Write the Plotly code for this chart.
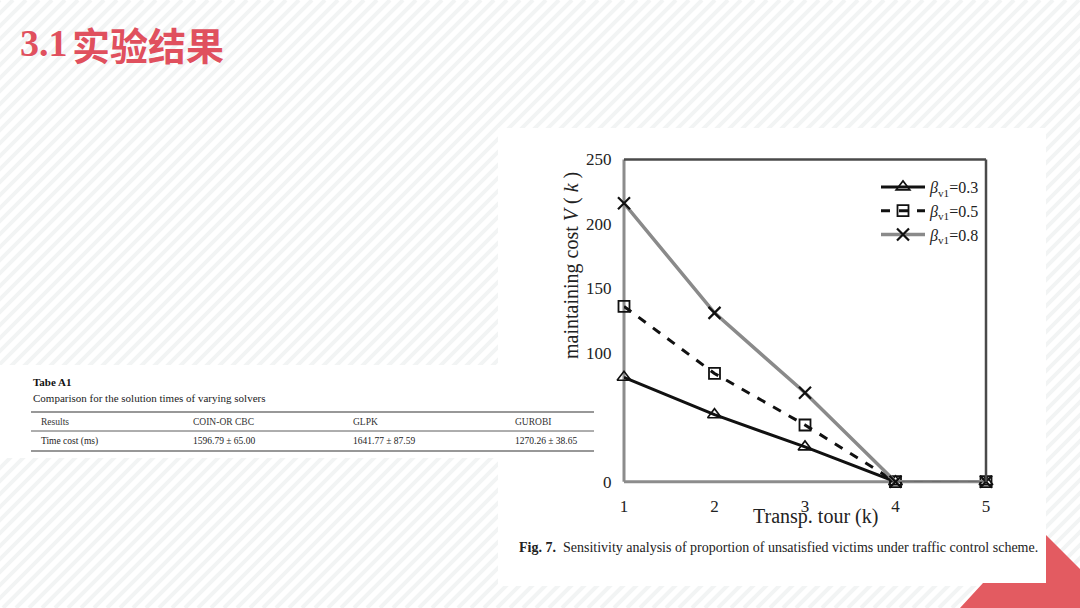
import plotly.graph_objects as go

W, H = 1080, 608

# ---------------- data ----------------
tours = [1, 2, 3, 4, 5]
beta_03 = [81, 52, 27, 0, 0]
beta_05 = [136, 84, 44, 0, 0]
beta_08 = [216, 131, 69, 0, 0]
series_names = ["<i>β</i><sub>v1</sub>=0.3", "<i>β</i><sub>v1</sub>=0.5", "<i>β</i><sub>v1</sub>=0.8"]
y_ticks = [0, 100, 150, 200, 250]
x_ticks = [1, 2, 3, 4, 5]

table_header = ["Results", "COIN-OR CBC", "GLPK", "GUROBI"]
table_row = ["Time cost (ms)", "1596.79 ± 65.00", "1641.77 ± 87.59", "1270.26 ± 38.65"]

SERIF = "Liberation Serif"


def px(x):
    return x / W


def py(y):
    return 1 - y / H


fig = go.Figure()

fig.add_trace(go.Scatter(
    x=tours, y=beta_03, name=series_names[0], mode="lines+markers",
    line=dict(color="#111111", width=3),
    marker=dict(symbol="triangle-up-open", size=12, color="#111111", line=dict(width=1.6)),
    cliponaxis=False))
fig.add_trace(go.Scatter(
    x=tours, y=beta_05, name=series_names[1], mode="lines+markers",
    line=dict(color="#111111", width=3, dash="dash"),
    marker=dict(symbol="square-open", size=11, color="#111111", line=dict(width=1.8)),
    cliponaxis=False))
fig.add_trace(go.Scatter(
    x=tours, y=beta_08, name=series_names[2], mode="lines+markers",
    line=dict(color="#8a8a8a", width=3.5),
    marker=dict(symbol="x-thin-open", size=12, color="#111111", line=dict(width=2.2)),
    cliponaxis=False))

shapes = []
# striped background (45 degrees, bottom-left to top-right)
step = 13
x0 = -H
while x0 < W:
    shapes.append(dict(type="line", xref="paper", yref="paper",
                       x0=px(x0), y0=0, x1=px(x0 + H), y1=1,
                       line=dict(color="#f2f4f4", width=4), layer="below"))
    x0 += step
# white panels
shapes.append(dict(type="rect", xref="paper", yref="paper",
                   x0=px(498), x1=px(1046), y0=py(586), y1=py(128),
                   fillcolor="white", line=dict(width=0), layer="below"))
shapes.append(dict(type="rect", xref="paper", yref="paper",
                   x0=px(0), x1=px(600), y0=py(458), y1=py(365),
                   fillcolor="white", line=dict(width=0), layer="below"))
# plot frame
shapes.append(dict(type="line", xref="x domain", yref="y domain", x0=0, x1=1, y0=1, y1=1,
                   line=dict(color="#4a4a4a", width=2.5)))
shapes.append(dict(type="line", xref="x domain", yref="y domain", x0=1, x1=1, y0=0, y1=1,
                   line=dict(color="#4a4a4a", width=2.5)))
shapes.append(dict(type="line", xref="x domain", yref="y domain", x0=0, x1=0, y0=0, y1=1,
                   line=dict(color="#8c8c8c", width=3), layer="below"))
shapes.append(dict(type="line", xref="x domain", yref="y domain", x0=0, x1=1, y0=0, y1=0,
                   line=dict(color="#8c8c8c", width=3), layer="below"))
# table rules
for yy, wdt in [(412, 1.2), (431, 0.8), (451, 1.2)]:
    shapes.append(dict(type="line", xref="paper", yref="paper",
                       x0=px(31), x1=px(594), y0=py(yy), y1=py(yy),
                       line=dict(color="#333333", width=wdt)))
# red chevron decoration
pts = [(1046, 535), (1080, 569), (1080, 608), (960, 608), (983, 583), (1046, 583)]
path = "M " + " L ".join(f"{px(a)},{py(b)}" for a, b in pts) + " Z"
shapes.append(dict(type="path", xref="paper", yref="paper", path=path,
                   fillcolor="#e35b61", line=dict(width=0)))

annotations = []


def text(x, y, s, size, color="#222222", family=SERIF, xanchor="left", textangle=0):
    annotations.append(dict(x=px(x), y=py(y), xref="paper", yref="paper", text=s,
                            showarrow=False, xanchor=xanchor, yanchor="middle",
                            textangle=textangle,
                            font=dict(family=family, size=size, color=color)))


# title
text(18, 43, "<b>3.1</b>", 38, "#e0505e", SERIF)
text(70, 43, "<b>实验结果</b>", 38, "#e0505e", "Noto Sans CJK SC")
# table
text(31, 382, "<b>Tabe A1</b>", 11, "#111111")
text(31, 398, "Comparison for the solution times of varying solvers", 11, "#222222")
cols = [39, 191, 351, 513]
for c, h in zip(cols, table_header):
    text(c, 422, h, 9.5, "#333333")
for c, v in zip(cols, table_row):
    text(c, 441, v, 9.5, "#222222")
# axis titles
text(571, 266, "maintaining cost <i>V</i> ( <i>k</i> )", 20, "#222222", xanchor="center", textangle=-90)
text(815, 516, "Transp. tour (k)", 20, "#222222", xanchor="center")
# caption
text(517, 547, "<b>Fig. 7.</b>  Sensitivity analysis of proportion of unsatisfied victims under traffic control scheme.",
     14, "#222222")

fig.update_layout(
    width=W, height=H,
    margin=dict(l=0, r=0, t=0, b=0, pad=0, autoexpand=False),
    paper_bgcolor="white", plot_bgcolor="rgba(0,0,0,0)",
    showlegend=True,
    legend=dict(x=px(876), y=py(170), xanchor="left", yanchor="top",
                bgcolor="rgba(0,0,0,0)", itemwidth=44, tracegroupgap=0,
                font=dict(family=SERIF, size=16, color="#222222")),
    xaxis=dict(domain=[px(624), px(986)], range=[1, 5], tickvals=x_ticks, automargin=False,
               showgrid=False, zeroline=False, showline=False,
               ticks="outside", ticklen=9, tickcolor="rgba(0,0,0,0)",
               tickfont=dict(family=SERIF, size=17, color="#222222")),
    yaxis=dict(domain=[py(481.7), py(159.5)], range=[0, 250], tickvals=y_ticks, automargin=False,
               showgrid=False, zeroline=False, showline=False,
               ticks="outside", ticklen=8, tickcolor="rgba(0,0,0,0)",
               tickfont=dict(family=SERIF, size=17, color="#222222")),
    shapes=shapes, annotations=annotations,
)

fig.write_html("out.html")
